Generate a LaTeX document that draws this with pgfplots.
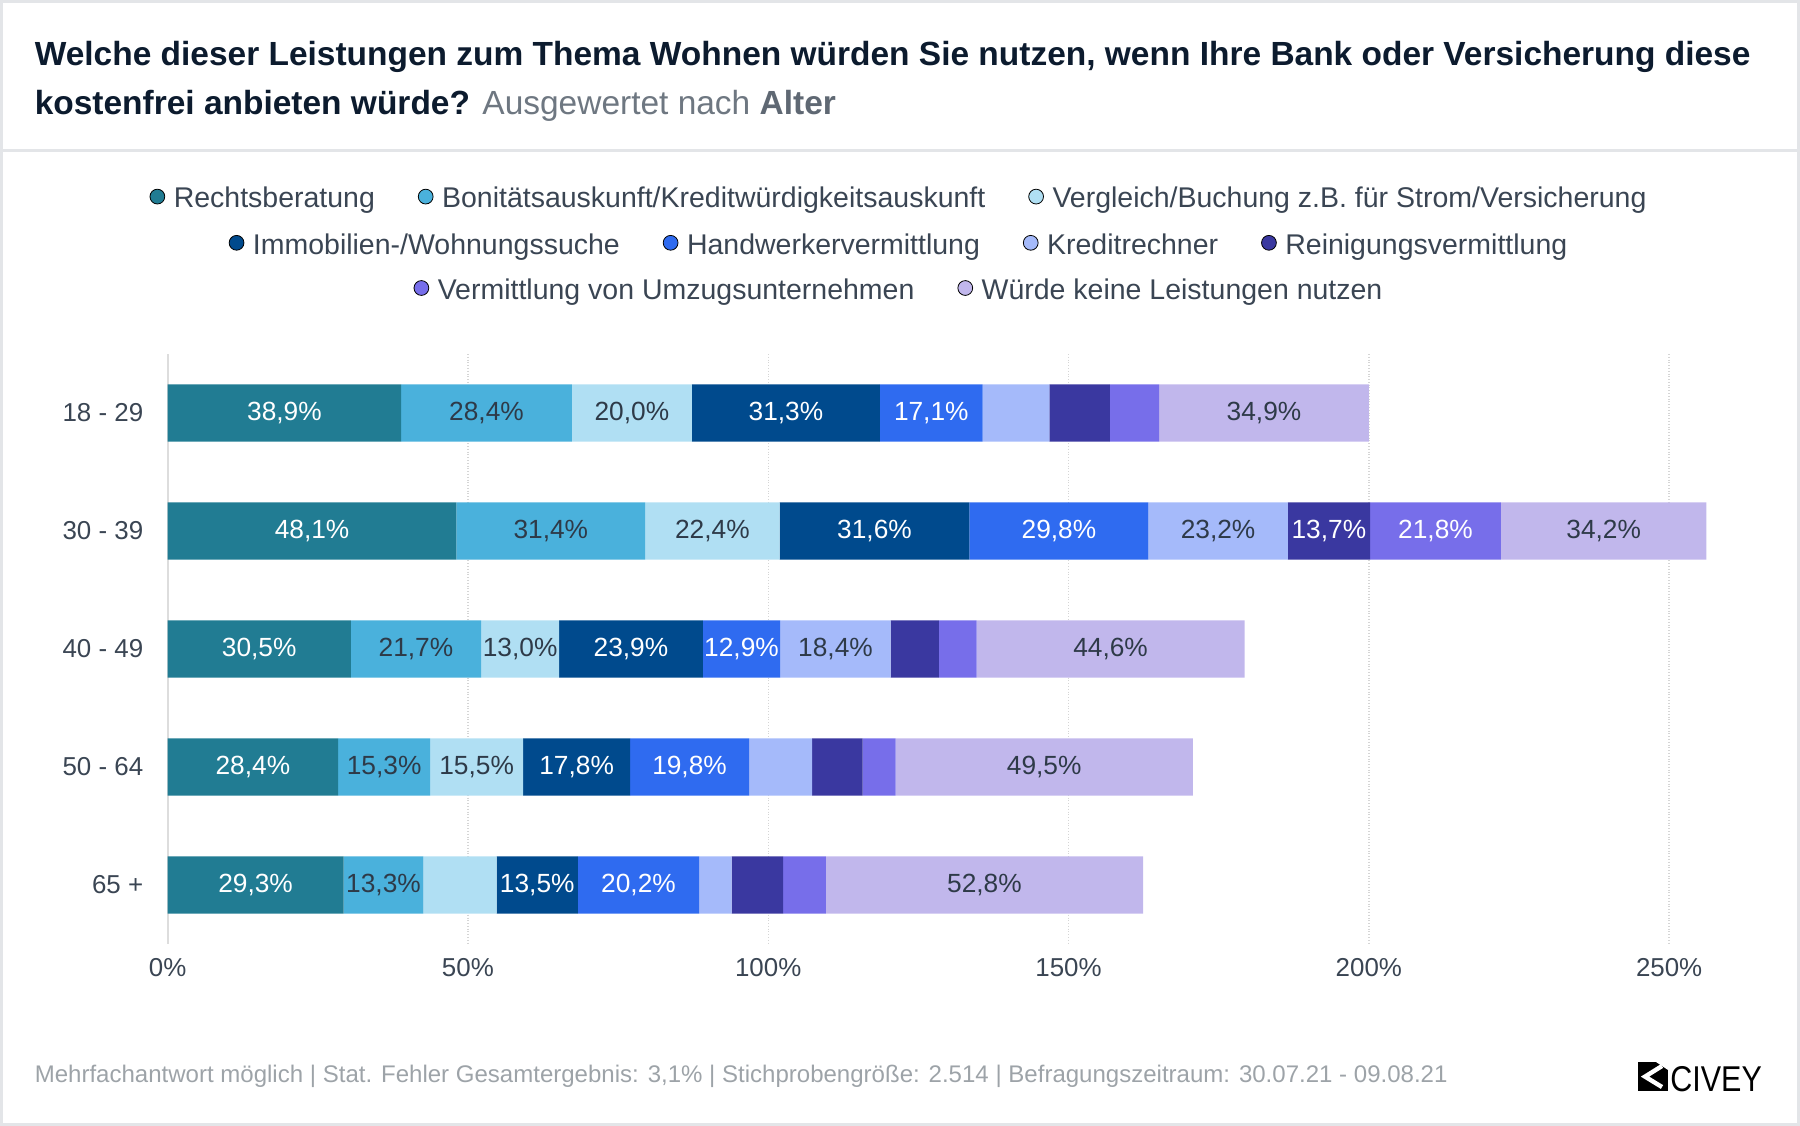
\documentclass[border=0pt]{standalone}
\usepackage{fontspec}
\setmainfont{Liberation Sans}
\usepackage{pgfplots}
\pgfplotsset{compat=1.18}

\definecolor{cRecht}{HTML}{217C93}
\definecolor{cBoni}{HTML}{4AB1DC}
\definecolor{cVerg}{HTML}{B0DFF3}
\definecolor{cImmo}{HTML}{004A8D}
\definecolor{cHand}{HTML}{2F6BF0}
\definecolor{cKred}{HTML}{A5BAFA}
\definecolor{cRein}{HTML}{3A38A0}
\definecolor{cUmz}{HTML}{776EEA}
\definecolor{cKein}{HTML}{C1B7EC}
\definecolor{navy}{HTML}{0C1B2E}
\definecolor{subgray}{HTML}{6E7781}
\definecolor{subgrayb}{HTML}{5F6873}
\definecolor{txt}{HTML}{3A4553}
\definecolor{lbl}{HTML}{2E3A48}
\definecolor{foot}{HTML}{9DA3A8}
\definecolor{framec}{HTML}{E3E5E8}
\definecolor{gridc}{HTML}{D5D5D5}
\definecolor{zeroc}{HTML}{DDDDDD}

\pgfplotsset{
  dotlegend/.style={
    hide axis, scale only axis, width=10bp, height=10bp,
    xmin=0, xmax=1, ymin=0, ymax=1, anchor=center,
    legend columns=-1,
    legend style={at={(0.5,0.5)}, anchor=center, draw=none, fill=none,
      font=\fontsize{14.3}{16}\selectfont, text=txt,
      /tikz/every odd column/.append style={column sep=2.3bp},
      /tikz/every even column/.append style={column sep=19.5bp}},
    legend image code/.code={\fill[##1] (0bp,1.2bp) circle (3.7bp);},
  },
  lighttext/.style={every node near coord/.append style={text=lbl}},
  darktext/.style={every node near coord/.append style={text=white}},
}

\begin{document}
\begin{tikzpicture}
\useasboundingbox (0,0) rectangle (900bp,-563bp);
\draw[framec, line width=1.5bp] (0.75bp,-0.75bp) rectangle (899.25bp,-562.25bp);
\draw[framec, line width=1.5bp] (0,-75bp) -- (900bp,-75bp);

% title
\node[anchor=base west, inner sep=0, text=navy, font=\bfseries\fontsize{16.8}{20}\selectfont]
  at (17.2bp,-32.7bp) {Welche dieser Leistungen zum Thema Wohnen würden Sie nutzen, wenn Ihre Bank oder Versicherung diese};
\node[anchor=base west, inner sep=0, text=navy, font=\bfseries\fontsize{16.8}{20}\selectfont]
  at (17.2bp,-57.4bp) {kostenfrei anbieten würde? \textcolor{subgray}{\mdseries Ausgewertet nach} \textcolor{subgrayb}{Alter}};

% legend rows
\begin{axis}[dotlegend, at={(450bp,-99.5bp)}]
\addlegendimage{fill=cRecht}\addlegendentry{Rechtsberatung}
\addlegendimage{fill=cBoni}\addlegendentry{Bonitätsauskunft/Kreditwürdigkeitsauskunft}
\addlegendimage{fill=cVerg}\addlegendentry{Vergleich/Buchung z.B. für Strom/Versicherung}
\end{axis}
\begin{axis}[dotlegend, at={(450bp,-122.6bp)}]
\addlegendimage{fill=cImmo}\addlegendentry{Immobilien-/Wohnungssuche}
\addlegendimage{fill=cHand}\addlegendentry{Handwerkervermittlung}
\addlegendimage{fill=cKred}\addlegendentry{Kreditrechner}
\addlegendimage{fill=cRein}\addlegendentry{Reinigungsvermittlung}
\end{axis}
\begin{axis}[dotlegend, at={(450bp,-145.2bp)}]
\addlegendimage{fill=cUmz}\addlegendentry{Vermittlung von Umzugsunternehmen}
\addlegendimage{fill=cKein}\addlegendentry{Würde keine Leistungen nutzen}
\end{axis}

% main chart
\begin{axis}[
  at={(83.8bp,-472bp)}, anchor=south west,
  scale only axis, width=786.8bp, height=295bp,
  xbar stacked, bar width=28.7bp,
  xmin=0, xmax=262, ymin=-0.5, ymax=4.5, y dir=reverse,
  axis line style={draw=none},
  xtick={0,50,...,250},
  xticklabels={0\%,50\%,100\%,150\%,200\%,250\%},
  ytick={0,...,4},
  yticklabels={18 - 29,30 - 39,40 - 49,50 - 64,65 +},
  major tick length=0pt,
  xmajorgrids,
  major grid style={densely dotted, color=gridc, line width=0.7bp},
  extra x ticks={0}, extra x tick labels={},
  extra x tick style={grid=major, major grid style={solid, color=zeroc, line width=1bp}},
  ticklabel style={font=\fontsize{13}{15}\selectfont, text=txt},
  xticklabel style={anchor=center, yshift=-12bp, inner sep=0pt},
  yticklabel style={anchor=east, xshift=-12bp, inner sep=0pt},
  point meta=explicit symbolic,
  nodes near coords,
  every node near coord/.append style={font=\fontsize{13.2}{15}\selectfont},
]
\addplot[fill=cRecht, draw=none, darktext] coordinates {
  (38.9,0) [38,9\%] (48.1,1) [48,1\%] (30.5,2) [30,5\%] (28.4,3) [28,4\%] (29.3,4) [29,3\%]};
\addplot[fill=cBoni, draw=none, lighttext] coordinates {
  (28.4,0) [28,4\%] (31.4,1) [31,4\%] (21.7,2) [21,7\%] (15.3,3) [15,3\%] (13.3,4) [13,3\%]};
\addplot[fill=cVerg, draw=none, lighttext] coordinates {
  (20.0,0) [20,0\%] (22.4,1) [22,4\%] (13.0,2) [13,0\%] (15.5,3) [15,5\%] (12.2,4) [{}]};
\addplot[fill=cImmo, draw=none, darktext] coordinates {
  (31.3,0) [31,3\%] (31.6,1) [31,6\%] (23.9,2) [23,9\%] (17.8,3) [17,8\%] (13.5,4) [13,5\%]};
\addplot[fill=cHand, draw=none, darktext] coordinates {
  (17.1,0) [17,1\%] (29.8,1) [29,8\%] (12.9,2) [12,9\%] (19.8,3) [19,8\%] (20.2,4) [20,2\%]};
\addplot[fill=cKred, draw=none, lighttext] coordinates {
  (11.1,0) [{}] (23.2,1) [23,2\%] (18.4,2) [18,4\%] (10.5,3) [{}] (5.4,4) [{}]};
\addplot[fill=cRein, draw=none, darktext] coordinates {
  (10.1,0) [{}] (13.7,1) [13,7\%] (8.0,2) [{}] (8.4,3) [{}] (8.6,4) [{}]};
\addplot[fill=cUmz, draw=none, darktext] coordinates {
  (8.2,0) [{}] (21.8,1) [21,8\%] (6.3,2) [{}] (5.5,3) [{}] (7.1,4) [{}]};
\addplot[fill=cKein, draw=none, lighttext] coordinates {
  (34.9,0) [34,9\%] (34.2,1) [34,2\%] (44.6,2) [44,6\%] (49.5,3) [49,5\%] (52.8,4) [52,8\%]};
\end{axis}

% footer
\node[anchor=base west, inner sep=0, text=foot, font=\fontsize{12.06}{15}\selectfont]
  at (17.2bp,-541.3bp) {Mehrfachantwort möglich | Stat. Fehler Gesamtergebnis: 3,1\% | Stichprobengröße: 2.514 | Befragungszeitraum: 30.07.21 - 09.08.21};
% logo
\fill[black] (819bp,-531bp) rectangle (834bp,-545.5bp);
\draw[white, line width=2.2bp, line join=miter] (831bp,-533bp) -- (822.5bp,-538.3bp) -- (831bp,-543.5bp);
\fill[white] (828bp,-531bp) -- (834bp,-531bp) -- (834bp,-535bp) -- cycle;
\node[anchor=base west, inner sep=0, text=black, font=\fontsize{18}{20}\selectfont]
  at (835bp,-545.5bp) {\scalebox{0.85}[1]{CIVEY}};
\end{tikzpicture}
\end{document}
